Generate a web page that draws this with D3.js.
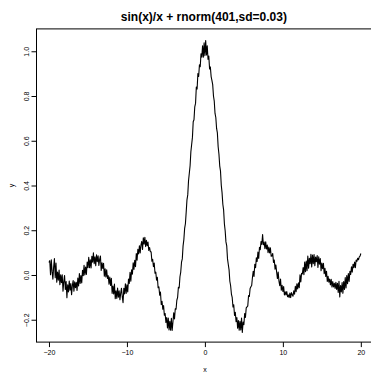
<!DOCTYPE html>
<html>
<head>
<meta charset="utf-8">
<script src="https://cdn.jsdelivr.net/npm/d3@7"></script>
<style>
  html, body { margin: 0; padding: 0; background: #fff; }
  svg { display: block; font-family: "Liberation Sans", Arial, sans-serif; }
</style>
</head>
<body>
<div id="chart"></div>
<script>
// x grid: seq(-20, 20, by = 0.1), 401 points
const xStart = -20;
const xStep = 0.1;

// y, left to right
const yValues = [
  0.056, 0.064, 0.001, 0.068, 0.015, -0.019, 0.037, 0.073, -0.012, 0.053,
  -0.032, 0.013, -0.023, 0.022, -0.043, 0.001, -0.034, 0.001, -0.073, -0.028,
  -0.002, -0.065, -0.029, -0.102, -0.044, -0.076, -0.027, -0.068, -0.038, -0.088,
  -0.047, -0.025, -0.073, -0.030, -0.057, -0.033, -0.069, -0.014, -0.049, 0.006,
  -0.038, -0.002, -0.036, 0.021, -0.003, 0.043, 0.000, 0.036, 0.002, 0.058,
  0.033, 0.079, 0.033, 0.068, 0.031, 0.084, 0.057, 0.099, 0.050, 0.081,
  0.041, 0.090, 0.059, 0.086, 0.043, 0.070, 0.085, 0.020, 0.055, 0.029,
  0.052, -0.005, 0.028, -0.009, 0.023, -0.015, -0.003, -0.041, -0.009, -0.047,
  -0.015, -0.082, -0.049, -0.085, -0.041, -0.106, -0.071, -0.105, -0.058, -0.099,
  -0.071, -0.111, -0.081, -0.059, -0.097, -0.124, -0.059, -0.085, -0.039, -0.082,
  -0.044, -0.076, -0.018, -0.038, 0.012, -0.028, 0.023, 0.004, 0.054, 0.025,
  0.066, 0.037, 0.096, 0.066, 0.115, 0.094, 0.131, 0.099, 0.135, 0.150,
  0.114, 0.166, 0.138, 0.168, 0.127, 0.155, 0.131, 0.147, 0.110, 0.123,
  0.104, 0.104, 0.062, 0.070, 0.037, 0.053, 0.008, 0.013, -0.023, -0.010,
  -0.057, -0.053, -0.090, -0.076, -0.132, -0.118, -0.153, -0.137, -0.180, -0.172,
  -0.212, -0.190, -0.237, -0.192, -0.246, -0.207, -0.247, -0.194, -0.248, -0.210,
  -0.169, -0.197, -0.151, -0.153, -0.113, -0.100, -0.055, -0.058, -0.008, 0.013,
  0.057, 0.072, 0.130, 0.158, 0.208, 0.229, 0.281, 0.336, 0.358, 0.421,
  0.455, 0.488, 0.551, 0.583, 0.615, 0.685, 0.694, 0.752, 0.767, 0.840,
  0.831, 0.900, 0.887, 0.940, 0.931, 0.989, 0.974, 1.025, 0.973, 1.038,
  0.980,
  1.048, 0.983, 1.025, 0.964, 0.979, 0.921, 0.930, 0.887, 0.870, 0.851,
  0.800, 0.777, 0.722, 0.704, 0.655, 0.635, 0.573, 0.541, 0.488, 0.465,
  0.401, 0.368, 0.316, 0.291, 0.229, 0.198, 0.148, 0.130, 0.072, 0.047,
  0.023, -0.028, -0.048, -0.085, -0.100, -0.143, -0.133, -0.181, -0.167, -0.209,
  -0.190, -0.238, -0.204, -0.247, -0.207, -0.246, -0.192, -0.257, -0.210, -0.222,
  -0.172, -0.190, -0.147, -0.143, -0.138, -0.092, -0.096, -0.060, -0.053, -0.047,
  -0.010, 0.017, -0.007, 0.048, 0.033, 0.077, 0.060, 0.102, 0.074, 0.124,
  0.113, 0.150, 0.137, 0.181, 0.135, 0.147, 0.118, 0.148, 0.116, 0.134,
  0.100, 0.125, 0.099, 0.121, 0.084, 0.085, 0.096, 0.056, 0.067, 0.026,
  0.045, 0.014, -0.016, 0.013, -0.028, -0.048, -0.018, -0.068, -0.046, -0.074,
  -0.052, -0.089, -0.075, -0.089, -0.074, -0.097, -0.089, -0.101, -0.081, -0.101,
  -0.079, -0.088, -0.095, -0.071, -0.086, -0.051, -0.075, -0.039, -0.062, -0.035,
  -0.057, 0.001, -0.031, 0.007, 0.005, 0.033, 0.001, 0.058, 0.015, 0.062,
  0.019, 0.085, 0.030, 0.075, 0.050, 0.093, 0.036, 0.089, 0.050, 0.091,
  0.041, 0.080, 0.059, 0.087, 0.034, 0.081, 0.048, 0.073, 0.019, 0.053,
  0.028, 0.052, 0.006, 0.030, -0.006, 0.017, -0.029, -0.006, -0.032, -0.018,
  -0.044, -0.019, -0.054, -0.029, -0.053, -0.037, -0.060, -0.033, -0.065, -0.037,
  -0.078, -0.028, -0.098, -0.047, -0.076, -0.034, -0.082, -0.029, -0.065, -0.012,
  -0.058, -0.003, -0.039, 0.006, -0.029, 0.017, 0.002, 0.037, 0.013, 0.048,
  0.033, 0.058, 0.033, 0.067, 0.061, 0.075, 0.068, 0.081, 0.084, 0.096
];

const xTicks = [-20, -10, 0, 10, 20];
const yTicks = [-0.2, 0, 0.2, 0.4, 0.6, 0.8, 1.0];
const title = 'sin(x)/x + rnorm(401,sd=0.03)';
const xLabel = 'x';
const yLabel = 'y';

const width = 371;
const height = 372;

// plot region (R usr extends data range by 4%)
const xDomain = [-21.6, 21.6];
const yDomain = [-0.3, 1.1];

const x = d3.scaleLinear().domain(xDomain).range([36.5, 373.3]);
const y = d3.scaleLinear().domain(yDomain).range([342.1, 28.9]);

const data = yValues.map((v, i) => ({ x: xStart + i * xStep, y: v }));

const svg = d3.select('#chart')
  .append('svg')
  .attr('width', width)
  .attr('height', height);

// box
svg.append('rect')
  .attr('x', x(xDomain[0]))
  .attr('y', y(yDomain[1]))
  .attr('width', x(xDomain[1]) - x(xDomain[0]))
  .attr('height', y(yDomain[0]) - y(yDomain[1]))
  .attr('fill', 'none')
  .attr('stroke', '#000')
  .attr('stroke-width', 1);

// x axis
const xAxis = svg.append('g')
  .attr('transform', `translate(0,${y(yDomain[0])})`)
  .call(d3.axisBottom(x).tickValues(xTicks).tickSize(5).tickSizeOuter(0).tickFormat(d3.format('d')));
xAxis.select('.domain').remove();
xAxis.selectAll('text')
  .style('font-size', '7px')
  .style('font-family', '"Liberation Sans", Arial, sans-serif')
  .attr('fill', '#000');

// y axis, labels rotated like R's las=0
const yAxis = svg.append('g')
  .attr('transform', `translate(${x(xDomain[0])},0)`)
  .call(d3.axisLeft(y).tickValues(yTicks).tickSize(5).tickSizeOuter(0).tickFormat(d3.format('.1f')));
yAxis.select('.domain').remove();
yAxis.selectAll('text')
  .attr('x', 0)
  .attr('dy', 0)
  .attr('text-anchor', 'middle')
  .attr('transform', 'translate(-8,0) rotate(-90)')
  .style('font-size', '7px')
  .style('font-family', '"Liberation Sans", Arial, sans-serif')
  .attr('fill', '#000');

// the series
const line = d3.line()
  .x(d => x(d.x))
  .y(d => y(d.y));

svg.append('path')
  .datum(data)
  .attr('fill', 'none')
  .attr('stroke', '#000')
  .attr('stroke-width', 1.1)
  .attr('stroke-linejoin', 'round')
  .attr('d', line);

// title and axis labels
svg.append('text')
  .attr('x', (x(xDomain[0]) + x(xDomain[1])) / 2 - 1)
  .attr('y', 21)
  .attr('text-anchor', 'middle')
  .style('font-size', '12px')
  .style('font-weight', 'bold')
  .text(title);

svg.append('text')
  .attr('x', x(0))
  .attr('y', 372)
  .attr('text-anchor', 'middle')
  .style('font-size', '7px')
  .text(xLabel);

svg.append('text')
  .attr('transform', `translate(14,${(y(yDomain[0]) + y(yDomain[1])) / 2}) rotate(-90)`)
  .attr('text-anchor', 'middle')
  .style('font-size', '7px')
  .text(yLabel);
</script>
</body>
</html>
